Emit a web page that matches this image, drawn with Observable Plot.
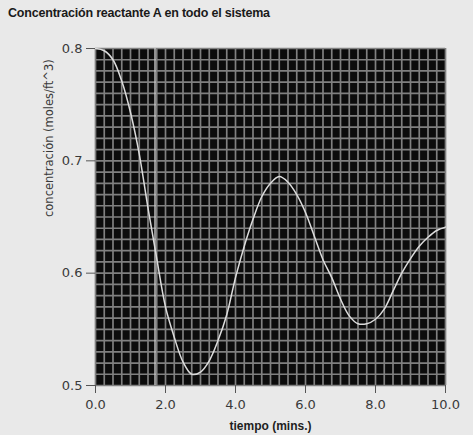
<!DOCTYPE html>
<html>
<head>
<meta charset="utf-8">
<script src="https://cdn.jsdelivr.net/npm/d3@7"></script>
<script src="https://cdn.jsdelivr.net/npm/@observablehq/plot@0.6"></script>
<style>
  html, body { margin: 0; padding: 0; background: #e9e9e9; }
  #wrap { position: relative; width: 473px; height: 435px; background: #e9e9e9; overflow: hidden; }
  #title { position: absolute; left: 8px; top: 6px; font-family: "Liberation Sans", Arial, sans-serif; font-weight: bold; font-size: 12.5px; color: #1a1a1a; letter-spacing: -0.2px; }
  #chart { position: absolute; left: 0; top: 0; }
</style>
</head>
<body>
<div id="wrap">
  <div id="chart"></div>
  <div id="title">Concentración reactante A en todo el sistema</div>
</div>
<script>
const titleText = "Concentración reactante A en todo el sistema";
const xLabel = "tiempo (mins.)";
const yLabel = "concentración (moles/ft^3)";

const tiempo = [0.00,0.25,0.50,0.75,1.00,1.25,1.50,1.75,2.00,2.25,2.50,2.75,3.00,3.25,3.50,3.75,4.00,4.25,4.50,4.75,5.00,5.25,5.50,5.75,6.00,6.25,6.50,6.75,7.00,7.25,7.50,7.75,8.00,8.25,8.50,8.75,9.00,9.25,9.50,9.75,10.00];
const concentracion = [0.800,0.798,0.790,0.771,0.743,0.706,0.658,0.613,0.570,0.543,0.521,0.510,0.512,0.522,0.540,0.563,0.596,0.624,0.648,0.668,0.680,0.686,0.681,0.670,0.654,0.633,0.612,0.596,0.577,0.562,0.555,0.555,0.559,0.568,0.584,0.600,0.613,0.624,0.632,0.638,0.641];

const xTicks = [0, 2, 4, 6, 8, 10];
const yTicks = [0.5, 0.6, 0.7, 0.8];
const cursorX = [1.7];

const data = tiempo.map((t, i) => ({t, c: concentracion[i]}));
const xGrid = d3.range(0, 10.0001, 0.25);
const yGrid = d3.range(50, 80.0001, 1).map(v => v / 100);

const chart = Plot.plot({
  width: 473,
  height: 435,
  marginLeft: 95,
  marginRight: 28,
  marginTop: 48,
  marginBottom: 50,
  style: {background: "transparent", fontFamily: "DejaVu Sans, sans-serif", fontSize: "13px", color: "#3a3a3a"},
  x: {domain: [0, 10]},
  y: {domain: [0.5, 0.8]},
  marks: [
    Plot.frame({fill: "#0c0c0c", stroke: "#0c0c0c"}),
    Plot.gridX(xGrid, {stroke: "#808080", strokeOpacity: 1, strokeWidth: 1.7}),
    Plot.gridY(yGrid, {stroke: "#808080", strokeOpacity: 1, strokeWidth: 1.7}),
    Plot.ruleX(cursorX, {stroke: "#c8c8c8", strokeWidth: 1.4}),
    Plot.line(data, {x: "t", y: "c", stroke: "#dcdcdc", strokeWidth: 1.5, curve: "catmull-rom"}),
    Plot.axisX(xTicks, {tickSize: 8, tickPadding: 6, tickFormat: d => d.toFixed(1), label: null, stroke: "#555", fill: "#3a3a3a"}),
    Plot.axisY(yTicks, {tickSize: 9, tickPadding: 4, tickFormat: d => d.toFixed(1), label: null, stroke: "#555", fill: "#3a3a3a"}),
    Plot.text([xLabel], {frameAnchor: "bottom", dy: 44, text: d => d, fontFamily: "Liberation Sans, Arial, sans-serif", fontWeight: "bold", fontSize: 12, fill: "#1e1e1e"}),
    Plot.text([yLabel], {frameAnchor: "left", dx: -46, rotate: -90, text: d => d, fontFamily: "DejaVu Sans, sans-serif", fontSize: 11.5, fill: "#3a3a3a"})
  ]
});
document.getElementById("chart").appendChild(chart);
</script>
</body>
</html>
